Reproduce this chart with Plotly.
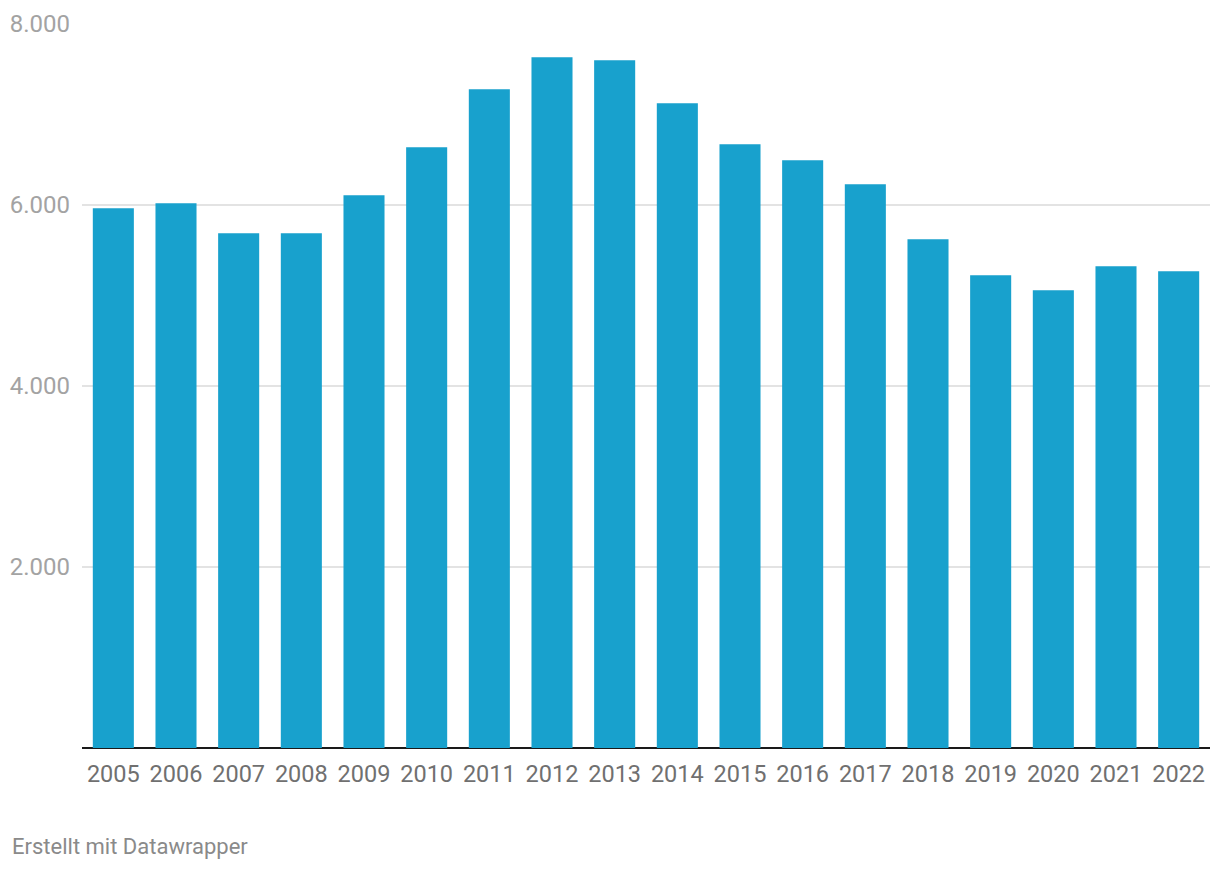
"""Bar chart: yearly values 2005-2022 (Datawrapper style)."""

import plotly.graph_objects as go

years = [str(y) for y in range(2005, 2023)]
values = [5964, 6019, 5688, 5688, 6108, 6638, 7280, 7633, 7600,
          7125, 6671, 6495, 6229, 5621, 5223, 5058, 5323, 5268]
y_ticks = [2000, 4000, 6000, 8000]

BAR_COLOR = "#18a1cd"
FONT = "Roboto"

fig = go.Figure(
    data=[
        go.Bar(
            x=years,
            y=values,
            marker={"color": BAR_COLOR, "line": {"width": 0}},
            hoverinfo="x+y",
        )
    ]
)

# page body has an 8px margin, so the figure is a bit smaller than the window
fig.update_layout(
    width=1204,
    height=854,
    paper_bgcolor="white",
    plot_bgcolor="white",
    separators=",.",
    bargap=0.345,
    showlegend=False,
    font={"family": FONT},
    margin=dict(l=74, r=2, t=16, b=114),
    xaxis={
        "type": "category",
        "showgrid": False,
        "showline": False,
        "ticks": "",
        "tickfont": {"size": 23.5, "color": "#707070", "family": FONT},
        "ticklabelstandoff": 9,
    },
    yaxis={
        "range": [0, 8000],
        "tickvals": y_ticks,
        "tickformat": ",d",
        "showgrid": True,
        "gridcolor": "#e3e3e3",
        "gridwidth": 2,
        "zeroline": True,
        "zerolinecolor": "#1a1a1a",
        "zerolinewidth": 2,
        "showline": False,
        "ticks": "",
        "tickfont": {"size": 24, "color": "#a3a3a3", "family": FONT},
        "ticklabelstandoff": 11,
    },
    annotations=[
        dict(
            text="Erstellt mit Datawrapper",
            xref="paper",
            yref="paper",
            x=0,
            y=0,
            xanchor="left",
            yanchor="middle",
            yshift=-98,
            xshift=-72,
            showarrow=False,
            font={"size": 22, "color": "#8a8a8a", "family": FONT},
        )
    ],
)

fig.write_html("out.html")
